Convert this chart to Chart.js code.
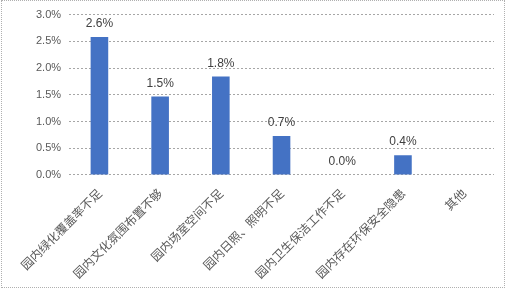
<!DOCTYPE html>
<html>
<head>
<meta charset="utf-8">
<script src="https://cdn.jsdelivr.net/npm/chart.js@4.4.1/dist/chart.umd.min.js"></script>
<style>
  html, body { margin: 0; padding: 0; background: #fff; }
  #wrap { position: relative; width: 508px; height: 289px; }
  #frame { position: absolute; left: 1px; top: 0; width: 502px; height: 286px; border: 1px dotted #b0b0b0; }
</style>
</head>
<body>
<div id="wrap">
  <canvas id="chart" width="508" height="289"></canvas>
  <div id="frame"></div>
</div>
<script>
const categories = ['园内绿化覆盖率不足', '园内文化氛围布置不够', '园内场室空间不足', '园内日照、照明不足', '园内卫生保洁工作不足', '园内存在环保安全隐患', '其他'];
const values = [2.58, 1.47, 1.84, 0.73, 0, 0.37, null];
const valueLabels = ['2.6%', '1.5%', '1.8%', '0.7%', '0.0%', '0.4%', ''];
const yTicks = [0, 0.5, 1, 1.5, 2, 2.5, 3];

const barLabels = {
    id: 'barLabels',
    afterDatasetsDraw(chart) {
        const ctx = chart.ctx;
        const meta = chart.getDatasetMeta(0);
        ctx.save();
        ctx.font = '12px "Liberation Sans", sans-serif';
        ctx.fillStyle = '#404040';
        ctx.textAlign = 'center';
        ctx.textBaseline = 'bottom';
        meta.data.forEach((bar, i) => {
            if (values[i] === null) return;
            ctx.fillText(valueLabels[i], bar.x, bar.y - 7);
        });
        ctx.restore();
    }
};

new Chart(document.getElementById('chart'), {
    type: 'bar',
    data: {
        labels: categories,
        datasets: [{
            data: values,
            backgroundColor: '#4472c4',
            borderWidth: 0,
            barPercentage: 0.58,
            categoryPercentage: 0.5
        }]
    },
    options: {
        responsive: false,
        animation: false,
        layout: { padding: { left: 28, right: 14, top: 8, bottom: 5 } },
        plugins: { legend: { display: false }, tooltip: { enabled: false } },
        scales: {
            x: {
                grid: { display: false },
                border: { display: false },
                ticks: {
                    minRotation: 45,
                    maxRotation: 45,
                    color: '#595959',
                    font: { family: '"Noto Sans CJK SC"', size: 12 }
                }
            },
            y: {
                min: 0,
                max: 3,
                afterBuildTicks(axis) { axis.ticks = yTicks.map(v => ({ value: v })); },
                border: { display: false, dash: [2, 2] },
                grid: { color: '#a6a6a6', drawTicks: false },
                ticks: {
                    padding: 8,
                    color: '#595959',
                    font: { family: '"Liberation Sans"', size: 11 },
                    callback: v => v.toFixed(1) + '%'
                }
            }
        }
    },
    plugins: [barLabels]
});
</script>
</body>
</html>
